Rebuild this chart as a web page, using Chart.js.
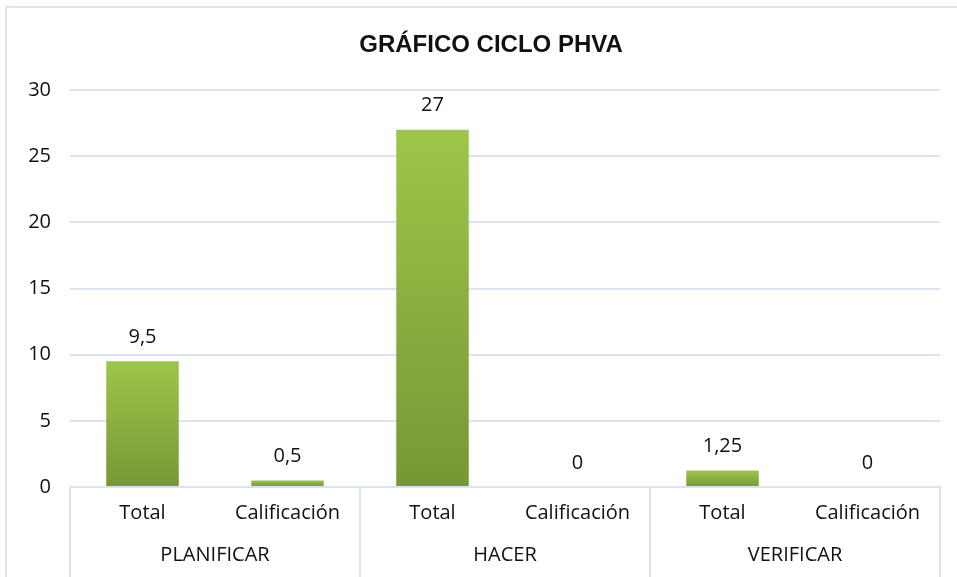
<!DOCTYPE html>
<html lang="es">
<head>
<meta charset="utf-8">
<title>Gráfico ciclo PHVA</title>
<script src="https://cdn.jsdelivr.net/npm/chart.js@4.4.1/dist/chart.umd.min.js"></script>
<style>
    html, body { margin: 0; padding: 0; background: #fff; }
    #moldura {
        position: absolute; left: 5px; top: 6px; width: 960px; height: 580px;
        border: 2px solid #dce6f2; box-sizing: border-box;
    }
    #caixa { position: absolute; left: 0; top: 0; width: 957px; height: 577px; }
</style>
</head>
<body>
<div id="moldura"></div>
<div id="caixa"><canvas id="graficoPhva"></canvas></div>
<script>
var titulo = 'GRÁFICO CICLO PHVA';
var grupos = ['PLANIFICAR', 'HACER', 'VERIFICAR'];
var categorias = ['Total', 'Calificación', 'Total', 'Calificación', 'Total', 'Calificación'];
var valores = [9.5, 0.5, 27, 0, 1.25, 0];
var ticksY = [0, 5, 10, 15, 20, 25, 30];

var fonte = "'Open Sans', 'Liberation Sans', sans-serif";
var corTexto = '#111111';
var corGrade = '#d9e3f1';

function formatarValor(v) {
    return String(v).replace('.', ',');
}

// degrade verde por barra (claro em cima, escuro embaixo)
function corBarra(c) {
    var ch = c.chart;
    var y = ch.scales && ch.scales.y;
    if (!y || !ch.chartArea || c.raw === undefined) return '#8cb142';
    var topo = y.getPixelForValue(c.raw);
    var base = y.getPixelForValue(0);
    if (base - topo < 1) topo = base - 1;
    var g = ch.ctx.createLinearGradient(0, topo, 0, base);
    g.addColorStop(0, '#9dc649');
    g.addColorStop(1, '#779735');
    return g;
}

// titulo desenhado a mao para ficar centrado como no original
var pluginTitulo = {
    id: 'tituloPhva',
    afterDraw: function (chart) {
        var ctx = chart.ctx;
        ctx.save();
        ctx.font = "bold 24px 'Liberation Sans', sans-serif";
        ctx.fillStyle = corTexto;
        ctx.textAlign = 'center';
        ctx.textBaseline = 'middle';
        ctx.fillText(titulo, 491, 45);
        ctx.restore();
    }
};

var pluginRotulos = {
    id: 'rotulos',
    afterDatasetsDraw: function (chart) {
        var ctx = chart.ctx;
        var meta = chart.getDatasetMeta(0);
        ctx.save();
        ctx.font = '20px ' + fonte;
        ctx.fillStyle = corTexto;
        ctx.textAlign = 'center';
        ctx.textBaseline = 'middle';
        meta.data.forEach(function (barra, i) {
            ctx.fillText(formatarValor(valores[i]), barra.x, barra.y - 24);
        });
        ctx.restore();
    }
};

var pluginGrupos = {
    id: 'grupos',
    afterDraw: function (chart) {
        var ctx = chart.ctx;
        var x = chart.scales.x;
        var area = chart.chartArea;
        var passo = (x.right - x.left) / categorias.length;
        ctx.save();
        ctx.strokeStyle = corGrade;
        ctx.lineWidth = 2;
        for (var k = 0; k <= grupos.length; k++) {
            var px = Math.round(x.left + k * 2 * passo);
            ctx.beginPath();
            ctx.moveTo(px, area.bottom);
            ctx.lineTo(px, chart.height);
            ctx.stroke();
        }
        ctx.font = '20px ' + fonte;
        ctx.fillStyle = corTexto;
        ctx.textAlign = 'center';
        ctx.textBaseline = 'middle';
        grupos.forEach(function (g, k) {
            var cx = x.left + (k * 2 + 1) * passo;
            ctx.fillText(g, cx, 555);
        });
        ctx.restore();
    }
};

new Chart(document.getElementById('graficoPhva'), {
    type: 'bar',
    data: {
        labels: categorias,
        datasets: [{
            data: valores,
            backgroundColor: corBarra,
            borderWidth: 0,
            barPercentage: 0.5,
            categoryPercentage: 1
        }]
    },
    options: {
        responsive: true,
        maintainAspectRatio: false,
        animation: false,
        layout: { padding: { left: 0, right: 17, top: 90, bottom: 0 } },
        plugins: {
            legend: { display: false },
            tooltip: { enabled: false },
            title: { display: false }
        },
        scales: {
            x: {
                grid: { display: false, drawTicks: false },
                border: { display: true, color: corGrade, width: 2 },
                ticks: { color: corTexto, font: { family: fonte, size: 20 }, padding: 14 },
                afterFit: function (s) { s.height = 90; }
            },
            y: {
                min: 0,
                max: 30,
                afterBuildTicks: function (s) {
                    s.ticks = ticksY.map(function (v) { return { value: v }; });
                },
                grid: { color: corGrade, lineWidth: 2, drawTicks: false },
                border: { display: false },
                ticks: { color: corTexto, font: { family: fonte, size: 20 }, padding: 19 },
                afterFit: function (s) { s.width = 70; }
            }
        }
    },
    plugins: [pluginRotulos, pluginGrupos, pluginTitulo]
});
</script>
</body>
</html>
